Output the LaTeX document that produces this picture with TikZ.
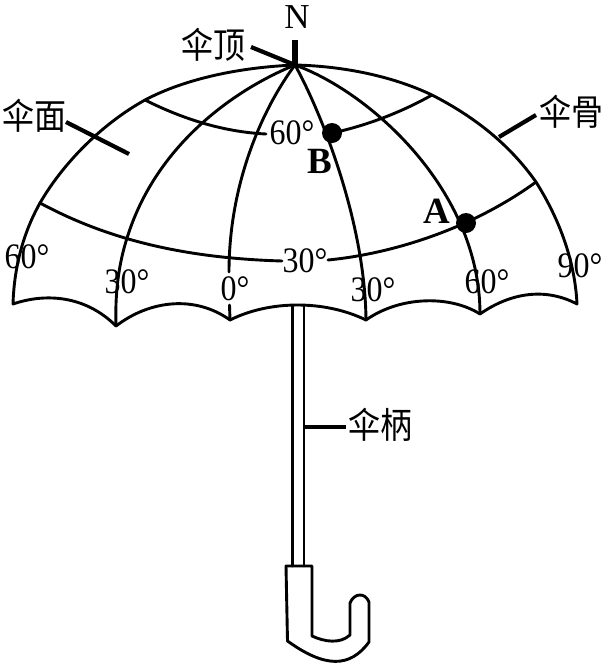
\documentclass[tikz,border=0pt]{standalone}
\usepackage{graphicx}
\usepackage{fontspec}
\setmainfont{Liberation Serif}
\newfontfamily\cjk{Noto Sans CJK SC}
\newcommand\talltext[1]{\scalebox{1}[1.12]{#1}}
\tikzset{
  line/.style={line width=2.9pt,line join=round,line cap=round},
  thickline/.style={line width=4.2pt},
  lab/.style={inner sep=0pt,font=\fontsize{32}{32}\selectfont},
  cjklab/.style={inner sep=0pt,font=\cjk\fontsize{32}{32}\selectfont},
  bold/.style={inner sep=0pt,font=\bfseries\fontsize{37}{37}\selectfont},
  dot/.style={circle,fill=black,minimum size=20pt,inner sep=0pt}
}
\begin{document}
\begin{tikzpicture}[x=1pt,y=-1pt]
\useasboundingbox (0,0) rectangle (605,665);
\fill[white] (0,0) rectangle (605,665);
\coordinate (top) at (295,65);
% canopy outline
\draw[line] (top) .. controls (225,68) and (175,84) .. (145,100)
  .. controls (100,125) and (62,165) .. (40,203)
  .. controls (22,235) and (14,270) .. (13,304)
  .. controls (45,293) and (85,295) .. (116,326)
  .. controls (150,300) and (195,295) .. (230,320)
  .. controls (270,300) and (325,300) .. (366,320)
  .. controls (400,296) and (450,295) .. (480,314)
  .. controls (510,293) and (545,287) .. (577,304)
  .. controls (575,262) and (560,220) .. (536,182)
  .. controls (510,145) and (475,117) .. (432,95)
  .. controls (390,75) and (340,66) .. (top);
% meridians
\draw[line] (top) .. controls (238,88) and (158,142) .. (128,235) .. controls (118,265) and (115,295) .. (116,326);
\draw[line] (top) .. controls (265,105) and (229,180) .. (229,272);
\draw[line] (229.5,305) -- (230,320);
\draw[line] (top) .. controls (320,110) and (365,220) .. (366,320);
\draw[line] (top) .. controls (370,92) and (480,190) .. (480,314);
% parallels
\draw[line] (145,100) .. controls (185,120) and (225,132) .. (266,134);
\draw[line] (332,133) .. controls (365,126) and (400,113) .. (432,95);
\draw[line] (40,203) .. controls (105,238) and (180,258) .. (282,261);
\draw[line] (328,260) .. controls (390,254) and (470,230) .. (536,182);
% dots
\node[dot] (B) at (332,133) {};
\node[dot] (A) at (466,223) {};
% handle
\draw[line] (292.5,306) -- (292.5,566);
\draw[line] (304,306) -- (304,566);
\draw[line] (286,566) -- (312,566) -- (312,636)
  .. controls (325,642) and (340,644) .. (350,635)
  -- (350,603) .. controls (354,593) and (365,592) .. (369,602)
  -- (369,642) .. controls (350,668) and (325,668) .. (287.5,641) -- cycle;
% leaders
\node[cjklab] (ding) at (213,45) {\talltext{伞顶}};
\node[cjklab] (mian) at (34,116) {\talltext{伞面}};
\node[cjklab] (gu) at (571,112) {\talltext{伞骨}};
\node[cjklab] (bing) at (380,425) {\talltext{伞柄}};
\coordinate (dingend) at (251,47);
\coordinate (mianend) at (129,154);
\coordinate (mianstart) at (66,122);
\coordinate (gustart) at (499,137);
\coordinate (guend) at (536,115);
\coordinate (bingstart) at (304,427);
\coordinate (bingend) at (346,427);
\coordinate (nend) at (295,40);
\draw[thickline] (dingend) -- (top);
\draw[line width=5.5pt] (nend) -- (top);
\draw[thickline] (mianstart) -- (mianend);
\draw[thickline] (gustart) -- (guend);
\draw[thickline] (bingstart) -- (bingend);
% labels
\node[lab,font=\fontsize{35}{35}\selectfont] (n) at (297,17) {N};
\node[lab] at (27,257) {\talltext{60°}};
\node[lab] at (127,282) {\talltext{30°}};
\node[lab] at (235,289) {\talltext{0°}};
\node[lab] at (373,290) {\talltext{30°}};
\node[lab] at (487,282) {\talltext{60°}};
\node[lab] at (580,266) {\talltext{90°}};
\node[lab] at (292,133) {\talltext{60°}};
\node[lab] at (305,261) {\talltext{30°}};
\node[bold] at (320,161) {B};
\node[bold] at (437,211) {A};
\end{tikzpicture}
\end{document}
